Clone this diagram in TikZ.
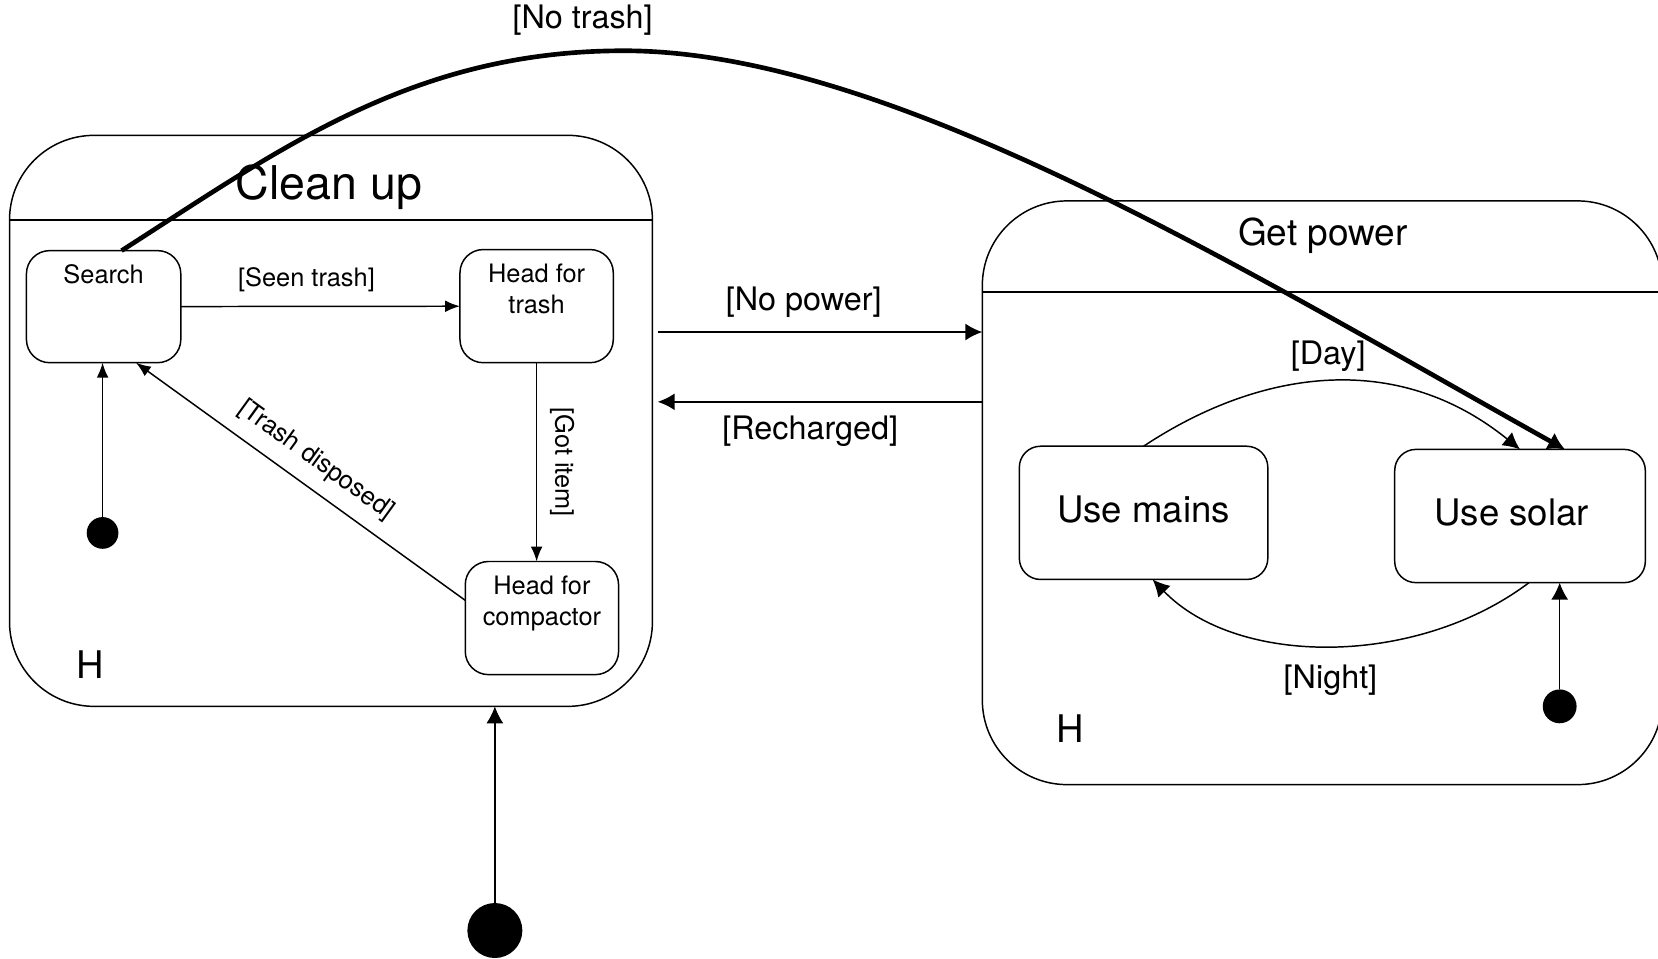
\documentclass[tikz,border=0pt]{standalone}
\usepackage{fontspec}
\setmainfont{TeX Gyre Heros}
\usetikzlibrary{arrows.meta}
\tikzset{
  >={Latex[length=7pt,width=5.5pt]}
}

\begin{document}
\begin{tikzpicture}[x=0.5pt,y=-0.5pt,line width=0.7pt,
    superstate/.style={draw,rounded corners=40pt,inner sep=0pt,outer sep=0pt},
    substate/.style={draw,rounded corners=11pt,inner sep=0pt,outer sep=0pt},
    startdot/.style={circle,fill=black,inner sep=0pt,outer sep=0pt},
    bigtip/.style={-{Latex[length=8pt,width=8pt]}},
    guard/.style={font=\fontsize{12}{15}\selectfont},
    bigguard/.style={font=\fontsize{15.3}{18}\selectfont}]
  \useasboundingbox (0,0) rectangle (1568,906);
  % Clean up
  \node[superstate,minimum width=304pt,minimum height=270pt] (cleanup) at (313,398) {};
  \draw (cleanup.west |- 0,208) -- (cleanup.east |- 0,208);
  \node[font=\fontsize{22}{26}\selectfont] (cleanuptitle) at (311,177) {Clean up};
  \node[font=\fontsize{18}{22}\selectfont] (cleanuphist) at (85,629) {H};
  \node[substate,minimum width=73pt,minimum height=53pt,
    label={[guard,name=searchtext,anchor=north,yshift=-3pt]north:Search}] (search) at (98,290) {};
  \node[substate,minimum width=72.5pt,minimum height=53.5pt,
    label={[guard,name=trashtext,align=center,anchor=north,yshift=-3pt]north:Head for\\trash}] (trash) at (507.5,289.5) {};
  \node[substate,minimum width=72.5pt,minimum height=53.5pt,
    label={[guard,name=comptext,align=center,anchor=north,yshift=-3pt]north:Head for\\compactor}] (comp) at (512.5,584.5) {};
  \node[startdot,minimum size=15pt] (cleanstart) at (97,504) {};
  \draw[->] (cleanstart) -- (cleanstart |- search.south);
  \draw[->] (search) -- node[guard,above=3pt,pos=.45] (seenlbl) {[Seen trash]} (trash);
  \draw[->] (trash.south) -- node[guard,rotate=-90,anchor=south,inner sep=6pt] (gotlbl) {[Got item]} (trash.south |- comp.north);
  \draw[<-] (search.-60) -- node[guard,sloped,above=3pt] (disposedlbl) {[Trash disposed]} (comp.167);
  % Get power
  \node[superstate,minimum width=321.5pt,minimum height=276pt] (power) at (1250.5,466) {};
  \draw (power.west |- 0,276) -- (power.east |- 0,276);
  \node[font=\fontsize{17.5}{21}\selectfont] (powertitle) at (1251,223) {Get power};
  \node[font=\fontsize{18}{22}\selectfont] (powerhist) at (1012,689) {H};
  \node[substate,rounded corners=10pt,minimum width=117.5pt,minimum height=63pt,
    font=\fontsize{17.3}{21}\selectfont] (mains) at (1081.5,485) {Use mains\vphantom{g}};
  \node[substate,rounded corners=10pt,minimum width=118.5pt,minimum height=63pt,
    font=\fontsize{17.3}{21}\selectfont] (solar) at (1437.5,488) {Use solar\hspace{8pt}\vphantom{g}};
  \node[startdot,minimum size=16pt] (powerstart) at (1475,668) {};
  \draw[bigtip] (powerstart) -- (powerstart |- solar.south);
  \draw[bigtip] (mains.north) .. controls (1190,350) and (1320,330) .. node[bigguard,above=1pt] (daylbl) {[Day]} (solar.north);
  \draw[bigtip] ([xshift=4.25pt]solar.south) .. controls (1340,631) and (1170,631) .. node[bigguard,below=5.5pt] (nightlbl) {[Night]} ([xshift=4.25pt]mains.south);
  % between the two
  \draw[bigtip,line width=0.85pt] ([xshift=2.5pt,yshift=42pt]cleanup.east) -- node[bigguard,above=3pt,pos=.45] (nopowerlbl) {[No power]} ([yshift=42pt]cleanup.east -| power.west);
  \draw[bigtip,line width=0.85pt] ([yshift=9pt]cleanup.east -| power.west) -- node[bigguard,below=3pt,pos=.53] (rechargedlbl) {[Recharged]} ([xshift=2.5pt,yshift=9pt]cleanup.east);
  \node[startdot,minimum size=26pt] (start) at (468,880) {};
  \draw[bigtip] (start) -- (start |- cleanup.south);
  \draw[-{Latex[length=8pt,width=9pt]},line width=2.2pt] ([xshift=8.5pt]search.north) .. controls (265,141) and (390,48) .. (590,48)
    .. controls (840,48) and (1174,254) .. ([xshift=21.25pt]solar.north);
  \node[bigguard] (notrashlbl) at (551,19) {[No trash]};
\end{tikzpicture}
\end{document}
